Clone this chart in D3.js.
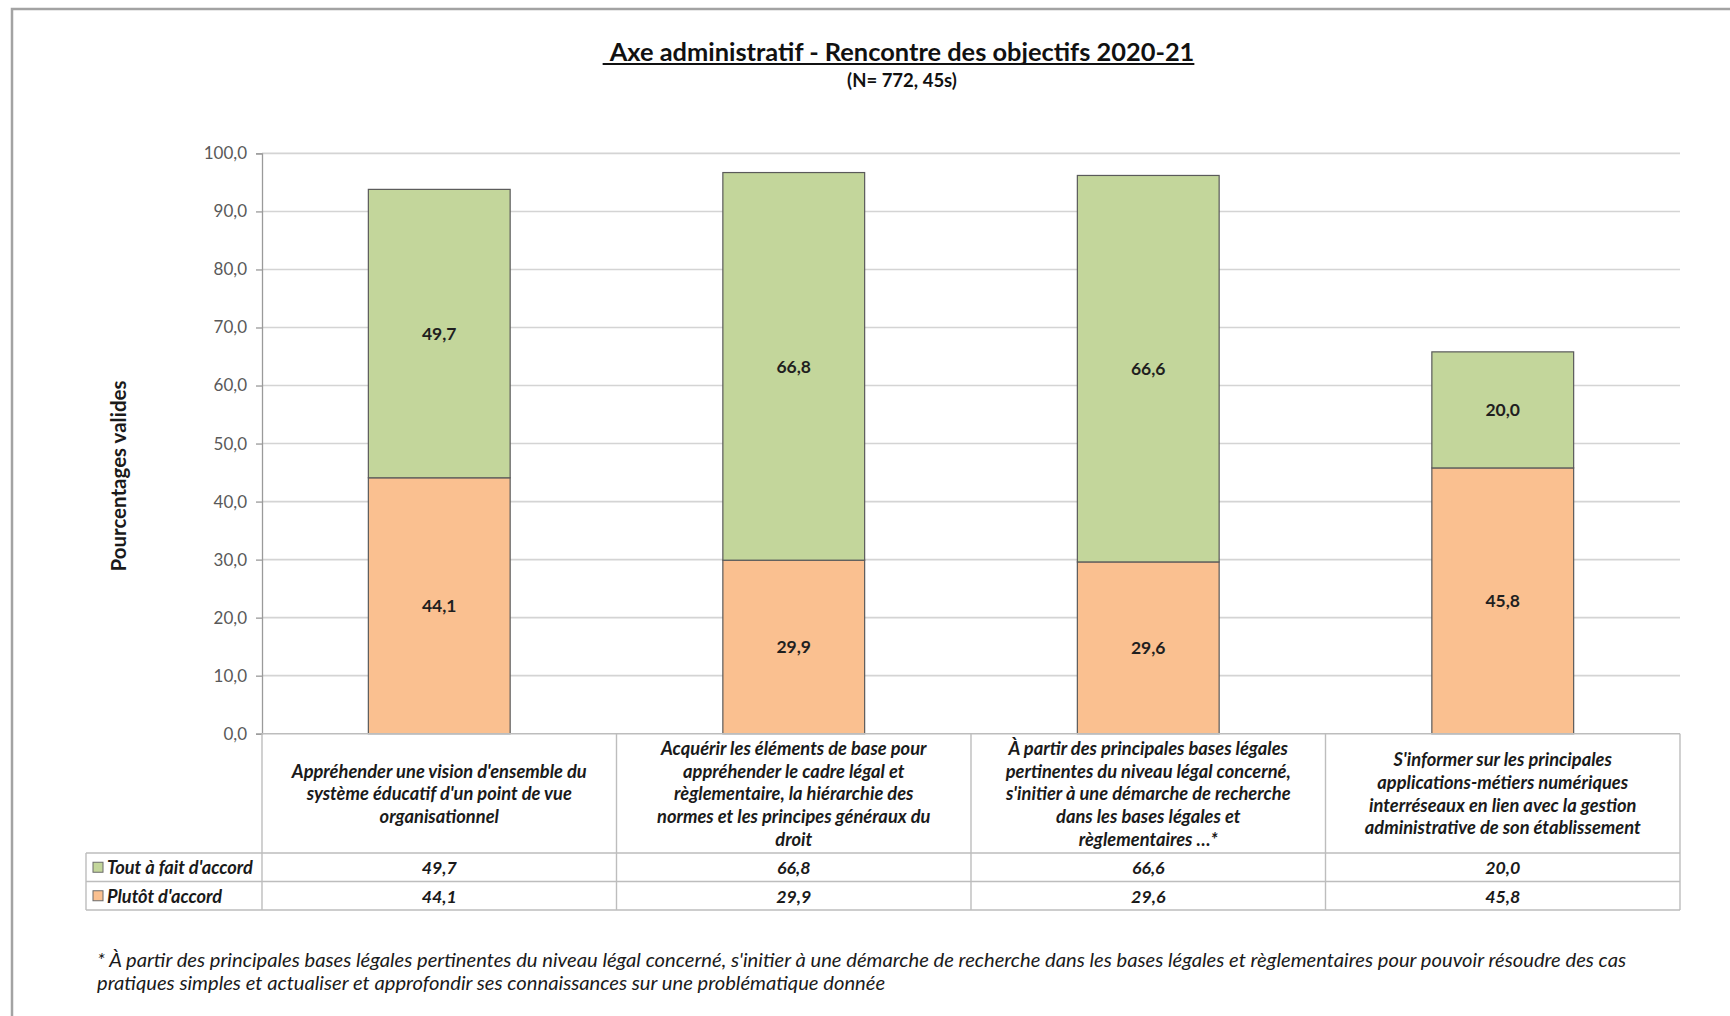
<!DOCTYPE html>
<html lang="fr">
<head>
<meta charset="utf-8">
<script src="https://cdn.jsdelivr.net/npm/d3@7"></script>
<style>
  html, body { margin: 0; padding: 0; background: #fff; }
  svg { display: block; font-family: Lato, "Open Sans", sans-serif; }
</style>
</head>
<body>
<svg id="chart" width="1730" height="1016"></svg>
<script>
// Objectives (categories), one text line per entry as laid out in the table header
const categories = ["obj1", "obj2", "obj3", "obj4"];
const categoryLines = [
  ["Appréhender une vision d'ensemble du", "système éducatif d'un point de vue", "organisationnel"],
  ["Acquérir les éléments de base pour", "appréhender le cadre légal et", "règlementaire, la hiérarchie des", "normes et les principes généraux du", "droit"],
  ["À partir des principales bases légales", "pertinentes du niveau légal concerné,", "s'initier à une démarche de recherche", "dans les bases légales et", "règlementaires …*"],
  ["S'informer sur les principales", "applications-métiers numériques", "interréseaux en lien avec la gestion", "administrative de son établissement"]
];

// Series values (valid percentages)
const seriesNames = ["Plutôt d'accord", "Tout à fait d'accord"];
const plutotDAccord = [44.1, 29.9, 29.6, 45.8];
const toutAFaitDAccord = [49.7, 66.8, 66.6, 20.0];
const seriesColors = ["#fac090", "#c3d69b"];

// Y axis ticks
const yTicks = [0, 10, 20, 30, 40, 50, 60, 70, 80, 90, 100];

const title = "Axe administratif - Rencontre des objectifs 2020-21";
const subtitle = "(N= 772, 45s)";
const yTitle = "Pourcentages valides";
const footnote = [
  "* À partir des principales bases légales pertinentes du niveau légal concerné, s'initier à une démarche de recherche dans les bases légales et règlementaires pour pouvoir résoudre des cas",
  "pratiques simples et actualiser et approfondir ses connaissances sur une problématique donnée"
];

const fr = d3.formatLocale({ decimal: ",", thousands: " ", grouping: [3], currency: ["", " €"] });
const fmt = fr.format(".1f");

const svg = d3.select("#chart");

// Outer frame
svg.append("path")
  .attr("d", "M12,1016 V9 H1730")
  .attr("fill", "none").attr("stroke", "#a3a3a3").attr("stroke-width", 2.5);

// Plot geometry
const plot = { left: 262, right: 1680, top: 153.4, bottom: 733.7 };
const table = { left: 86, headerBottom: 853, row1Bottom: 881.5, bottom: 910 };

const x = d3.scaleBand().domain(categories).range([plot.left, plot.right]).padding(0);
const y = d3.scaleLinear().domain([0, 100]).range([plot.bottom, plot.top]);
const barW = x.bandwidth() * 0.4;

// Gridlines
svg.append("g")
  .selectAll("line").data(yTicks.filter(d => d > 0)).join("line")
  .attr("x1", plot.left).attr("x2", plot.right)
  .attr("y1", d => y(d)).attr("y2", d => y(d))
  .attr("stroke", "#d4d4d4").attr("stroke-width", 1.6);

// Y axis
const yAxis = svg.append("g")
  .attr("transform", `translate(${plot.left},0)`)
  .call(d3.axisLeft(y).tickValues(yTicks).tickFormat(fmt).tickSize(6).tickPadding(9));
yAxis.select(".domain").attr("stroke", "#9a9a9a").attr("stroke-width", 1.3);
yAxis.selectAll(".tick line").attr("stroke", "#9a9a9a").attr("stroke-width", 1.3);
yAxis.selectAll(".tick text")
  .attr("fill", "#595959").attr("font-size", 17).attr("font-family", "Lato, sans-serif");

// Y axis title
svg.append("text")
  .attr("transform", `translate(118,476) rotate(-90)`)
  .attr("text-anchor", "middle").attr("dominant-baseline", "central")
  .attr("font-size", 20.5).attr("font-weight", 700).attr("fill", "#1a1a1a")
  .text(yTitle);

// Stacked bars
const rows = categories.map((c, i) => ({ cat: c, p: plutotDAccord[i], t: toutAFaitDAccord[i] }));
const stack = d3.stack().keys(["p", "t"])(rows);

const layers = svg.append("g").selectAll("g").data(stack).join("g")
  .attr("fill", (d, i) => seriesColors[i]);

layers.selectAll("rect").data(d => d).join("rect")
  .attr("x", d => x(d.data.cat) + (x.bandwidth() - barW) / 2)
  .attr("y", d => y(d[1]))
  .attr("width", barW)
  .attr("height", d => y(d[0]) - y(d[1]))
  .attr("stroke", "#5a5a5a").attr("stroke-width", 1.2);

// Value labels inside the segments
layers.selectAll("text").data(d => d).join("text")
  .attr("x", d => x(d.data.cat) + x.bandwidth() / 2)
  .attr("y", d => y((d[0] + d[1]) / 2))
  .attr("text-anchor", "middle").attr("dominant-baseline", "central")
  .attr("font-size", 17.5).attr("font-weight", 700).attr("fill", "#1f1f1f")
  .text(d => fmt(d[1] - d[0]));

// Data table
const tbl = svg.append("g").attr("stroke", "#bdbdbd").attr("stroke-width", 1.4).attr("fill", "none");
// horizontal lines
tbl.append("line").attr("x1", table.left).attr("x2", plot.right).attr("y1", table.headerBottom).attr("y2", table.headerBottom);
tbl.append("line").attr("x1", table.left).attr("x2", plot.right).attr("y1", table.row1Bottom).attr("y2", table.row1Bottom);
tbl.append("line").attr("x1", table.left).attr("x2", plot.right).attr("y1", table.bottom).attr("y2", table.bottom);
tbl.append("line").attr("x1", plot.left).attr("x2", plot.right).attr("y1", plot.bottom).attr("y2", plot.bottom);
// vertical lines
const colEdges = categories.map(c => x(c)).concat([plot.right]);
tbl.selectAll("line.col").data(colEdges).join("line").attr("class", "col")
  .attr("x1", d => d).attr("x2", d => d).attr("y1", plot.bottom).attr("y2", table.bottom);
tbl.append("line").attr("x1", table.left).attr("x2", table.left).attr("y1", table.headerBottom).attr("y2", table.bottom);

// Header cell text (category labels)
const lineH = 22.6;
const headerMid = (plot.bottom + table.headerBottom) / 2;
const hdr = svg.append("g").attr("font-size", 18.3).attr("font-weight", 700).attr("font-style", "italic")
  .attr("fill", "#1a1a1a").attr("text-anchor", "middle");
categories.forEach((c, i) => {
  const lines = categoryLines[i];
  const y0 = headerMid - (lines.length - 1) * lineH / 2;
  lines.forEach((ln, j) => {
    hdr.append("text")
      .attr("x", x(c) + x.bandwidth() / 2)
      .attr("y", y0 + j * lineH)
      .attr("dominant-baseline", "central")
      .text(ln);
  });
});

// Table rows: legend key + values
const tableRows = [
  { name: seriesNames[1], color: seriesColors[1], values: toutAFaitDAccord, top: table.headerBottom, bottom: table.row1Bottom },
  { name: seriesNames[0], color: seriesColors[0], values: plutotDAccord, top: table.row1Bottom, bottom: table.bottom }
];
tableRows.forEach(r => {
  const cy = (r.top + r.bottom) / 2;
  svg.append("rect")
    .attr("x", 93).attr("y", cy - 5).attr("width", 10).attr("height", 10)
    .attr("fill", r.color).attr("stroke", "#6b6b6b").attr("stroke-width", 1);
  svg.append("text")
    .attr("x", 107).attr("y", cy).attr("dominant-baseline", "central")
    .attr("font-size", 18.2).attr("font-weight", 700).attr("font-style", "italic").attr("fill", "#1a1a1a")
    .text(r.name);
  svg.append("g").selectAll("text").data(r.values).join("text")
    .attr("x", (d, i) => x(categories[i]) + x.bandwidth() / 2)
    .attr("y", cy).attr("dominant-baseline", "central").attr("text-anchor", "middle")
    .attr("font-size", 17.8).attr("font-weight", 700).attr("font-style", "italic").attr("fill", "#1a1a1a")
    .text(d => fmt(d));
});

// Title and subtitle
const titleText = svg.append("text")
  .attr("x", 902).attr("y", 51).attr("text-anchor", "middle").attr("dominant-baseline", "central")
  .attr("font-size", 25.4).attr("font-weight", 700).attr("fill", "#111")
  .text(title);
const tb = titleText.node().getBBox();
svg.append("line")
  .attr("x1", tb.x - 6).attr("x2", tb.x + tb.width)
  .attr("y1", 64).attr("y2", 64)
  .attr("stroke", "#111").attr("stroke-width", 1.8);

svg.append("text")
  .attr("x", 902).attr("y", 80).attr("text-anchor", "middle").attr("dominant-baseline", "central")
  .attr("font-size", 18.5).attr("font-weight", 700).attr("fill", "#111")
  .text(subtitle);

// Footnote
svg.append("g").selectAll("text").data(footnote).join("text")
  .attr("x", 97).attr("y", (d, i) => 959 + i * 23)
  .attr("dominant-baseline", "central")
  .attr("font-size", 20.2).attr("font-style", "italic").attr("fill", "#1a1a1a")
  .text(d => d);
</script>
</body>
</html>
